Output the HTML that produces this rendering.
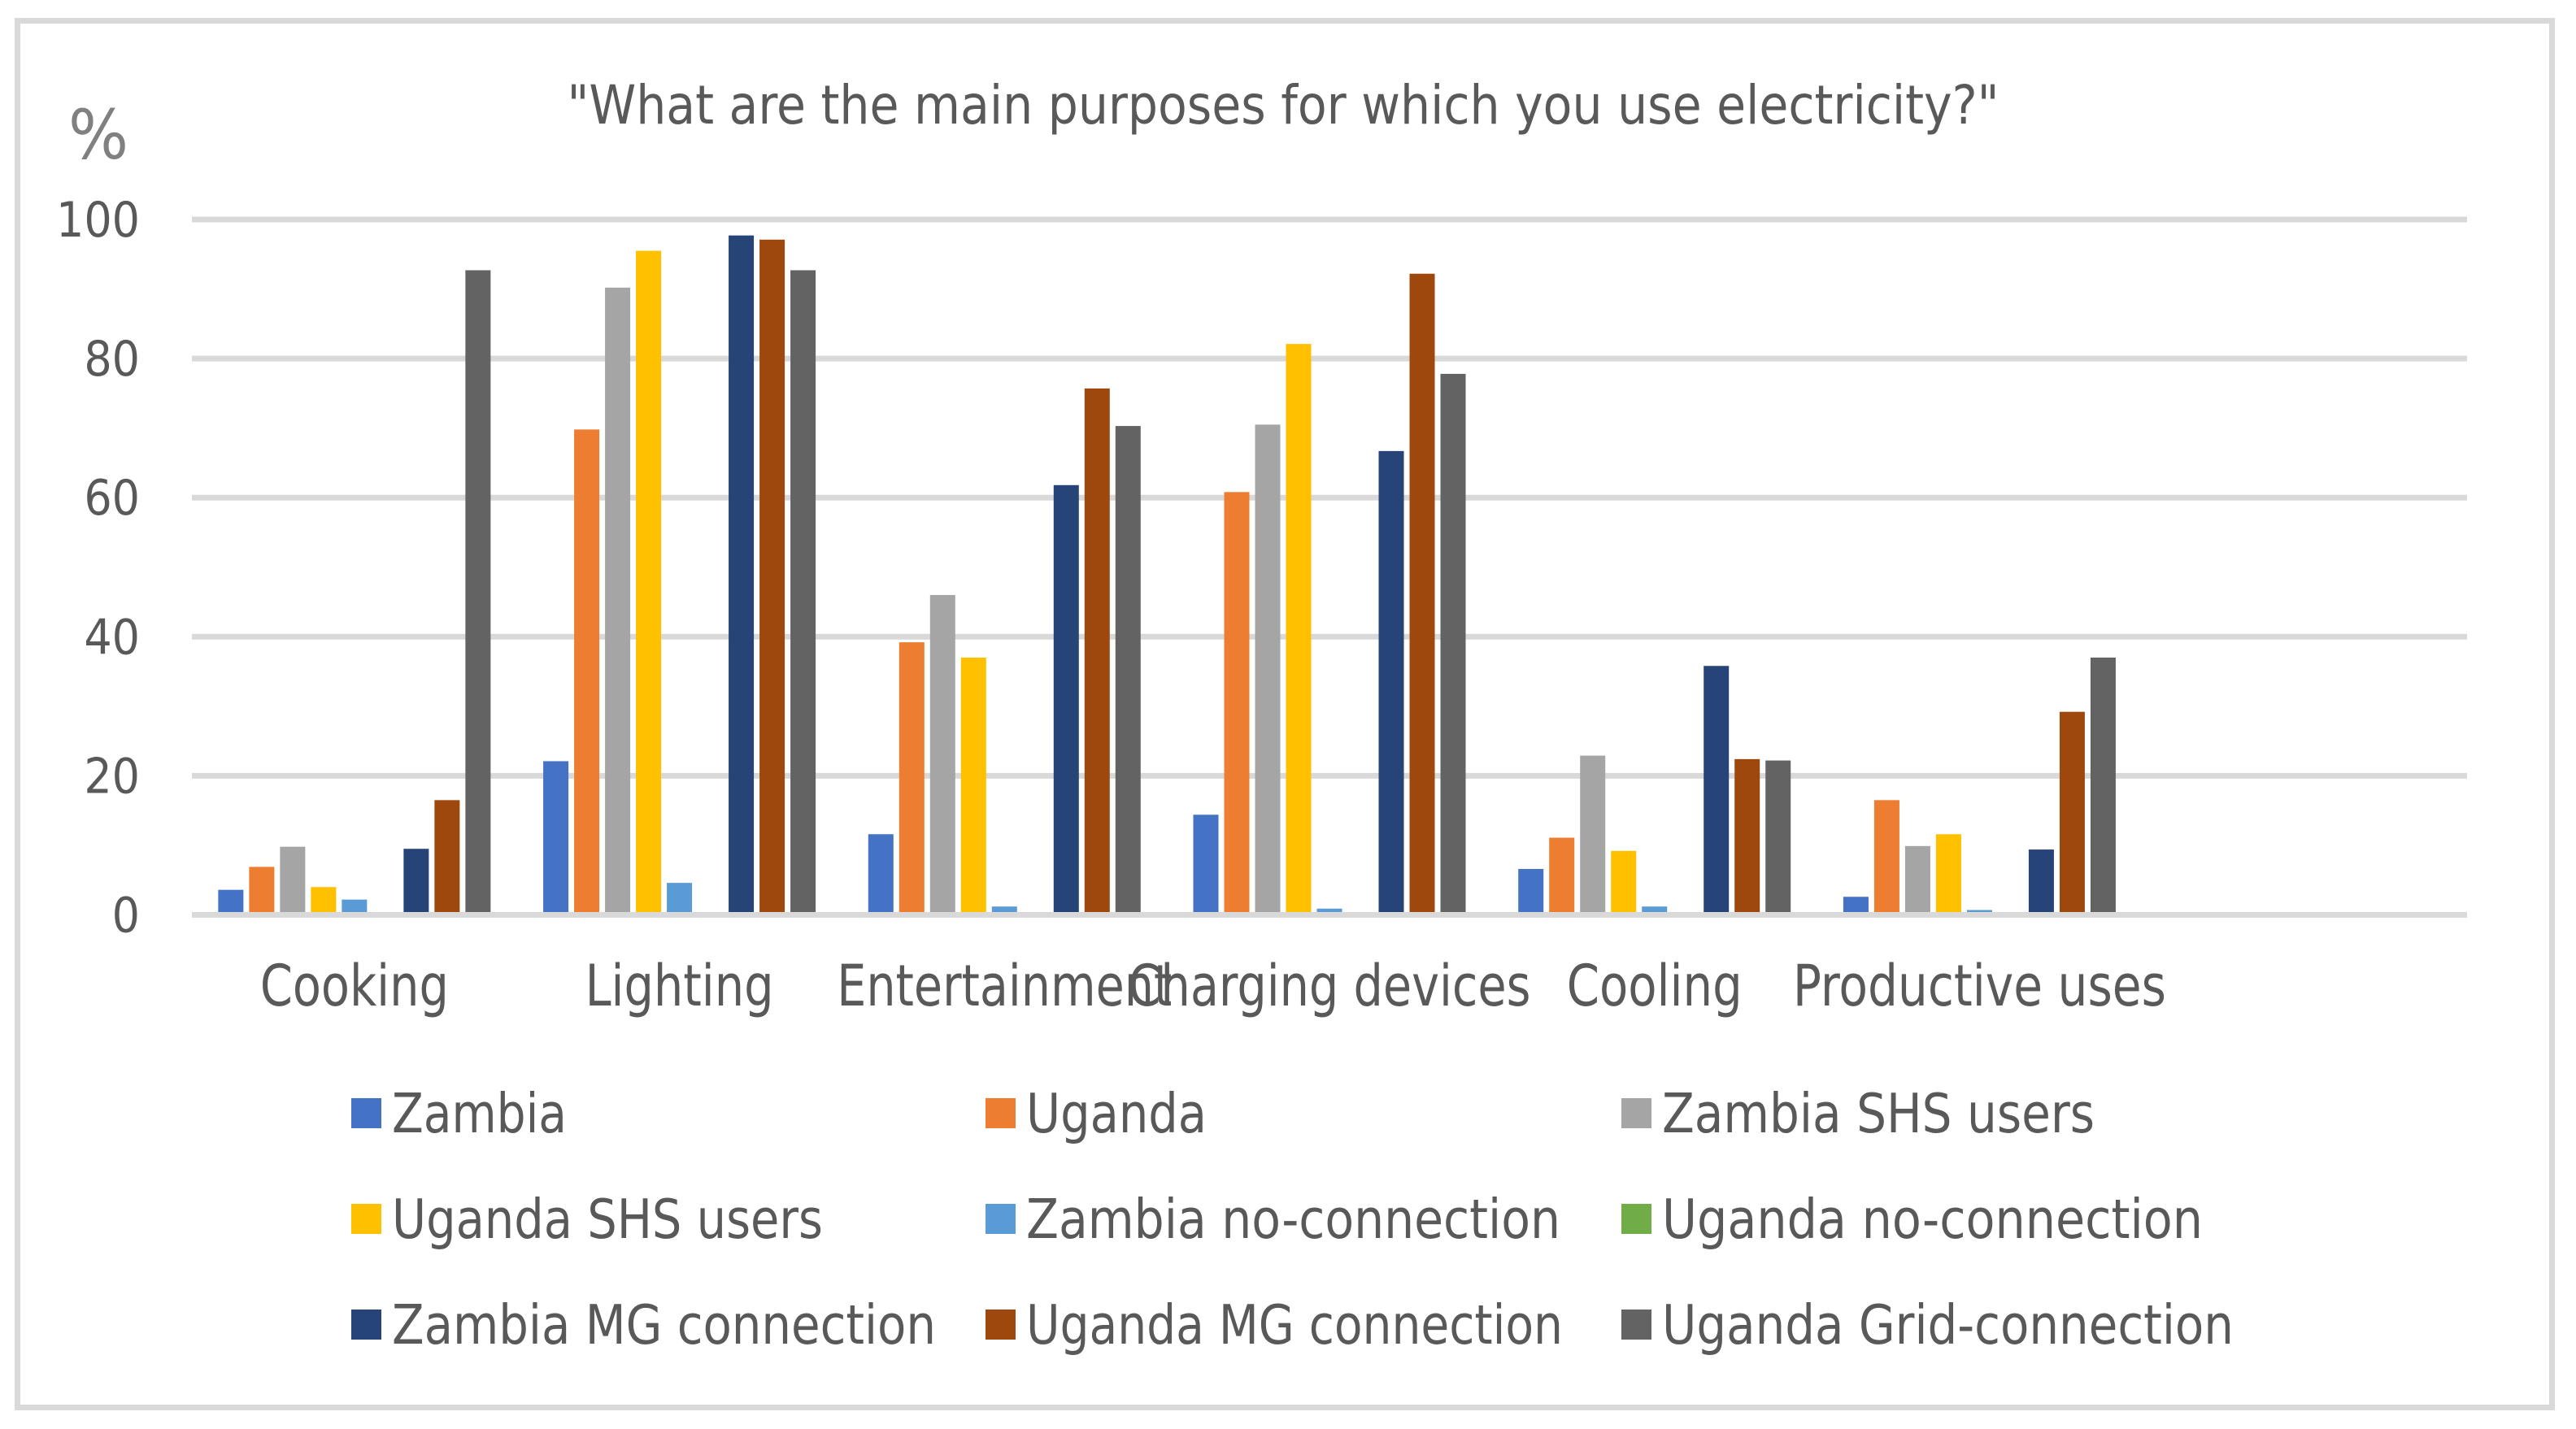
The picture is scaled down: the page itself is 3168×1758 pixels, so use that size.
<!DOCTYPE html>
<html><head><meta charset="utf-8"><style>
html,body{margin:0;padding:0;background:#fff;}
svg{display:block;}
text{font-family:"DejaVu Sans Condensed","DejaVu Sans","Liberation Sans",sans-serif;fill:#595959;}
</style></head><body>
<svg id="chart" width="3168" height="1758" viewBox="0 0 3168 1758" xmlns="http://www.w3.org/2000/svg">
<rect x="21.5" y="25.5" width="3117" height="1706" fill="#fff" stroke="#D9D9D9" stroke-width="7"/>
<text x="1578" y="152" font-size="66" text-anchor="middle" textLength="1761" lengthAdjust="spacingAndGlyphs">"What are the main purposes for which you use electricity?"</text>
<text x="84" y="195" font-size="84" style="fill:#808080" textLength="74" lengthAdjust="spacingAndGlyphs">%</text>
<g id="grid"></g><g id="yticks"></g><g id="bars"></g><g id="xlabels"></g><g id="legend"></g>
</svg>
<script>
const categories=["Cooking","Lighting","Entertainment","Charging devices","Cooling","Productive uses",""];
const seriesNames=["Zambia","Uganda","Zambia SHS users","Uganda SHS users","Zambia no-connection","Uganda no-connection","Zambia MG connection","Uganda MG connection","Uganda Grid-connection"];
const zambia=[3.6,22.1,11.6,14.4,6.6,2.6,0];
const uganda=[6.9,69.8,39.2,60.8,11.1,16.5,0];
const zambiaSHS=[9.8,90.2,46,70.5,22.9,9.9,0];
const ugandaSHS=[4.0,95.5,37,82.1,9.2,11.6,0];
const zambiaNoConn=[2.2,4.6,1.2,0.9,1.2,0.7,0];
const ugandaNoConn=[0,0,0,0,0,0,0];
const zambiaMG=[9.5,97.7,61.8,66.7,35.8,9.4,0];
const ugandaMG=[16.5,97.1,75.7,92.2,22.4,29.2,0];
const ugandaGrid=[92.7,92.7,70.3,77.8,22.2,37.0,0];
const yTicks=[0,20,40,60,80,100];

const seriesValues=[zambia,uganda,zambiaSHS,ugandaSHS,zambiaNoConn,ugandaNoConn,zambiaMG,ugandaMG,ugandaGrid];
const colors=["#4472C4","#ED7D31","#A5A5A5","#FFC000","#5B9BD5","#70AD47","#264478","#9E480E","#636363"];
const NS="http://www.w3.org/2000/svg";
const X0=236,X1=3034,Y0=1125.5,Y100=270;
const catW=(X1-X0)/categories.length;
const barW=31,gap=7;
function yScale(v){return Y0-(v/100)*(Y0-Y100);}
function xBand(c){return X0+c*catW;}
function mk(tag,attrs,parent){const e=document.createElementNS(NS,tag);for(const k in attrs)e.setAttribute(k,attrs[k]);parent.appendChild(e);return e;}

const grid=document.getElementById('grid');
const yt=document.getElementById('yticks');
yTicks.forEach(t=>{
  if(t>0){const l=mk('rect',{x:X0,y:yScale(t)-3.5,width:X1-X0,height:7,fill:'#D9D9D9'},grid);
  
  }
  const tx=mk('text',{x:172,y:yScale(t)+21,'font-size':60,'text-anchor':'end'},yt);
  
  
  tx.textContent=t;
});

const bars=document.getElementById('bars');
const groupW=seriesValues.length*barW+(seriesValues.length-1)*gap;
categories.forEach((c,ci)=>{
  const off=xBand(ci)+(catW-groupW)/2;
  seriesValues.forEach((arr,si)=>{
    const v=arr[ci];
    if(!(v>0))return;
    const top=yScale(v);
    const r=mk('rect',{x:off+si*(barW+gap),y:top,width:barW,height:Y0-top,fill:colors[si]},bars);
    
    
  });
});
const zl=mk('rect',{x:X0,y:Y0-3.5,width:X1-X0,height:7,fill:'#D9D9D9'},bars);



const xl=document.getElementById('xlabels');
const labelW=[232,232,412,495,216,459,0];
categories.forEach((c,ci)=>{
  if(!c)return;
  const t=mk('text',{x:xBand(ci)+catW/2,y:1237,'font-size':70,'text-anchor':'middle',textLength:labelW[ci],lengthAdjust:'spacingAndGlyphs'},xl);
  
  
  t.textContent=c;
});

const lg=document.getElementById('legend');
const colX=[432,1212,1994],rowY=[1351,1481,1611];
const legW=[215,222,532,530,657,665,669,660,703];
seriesNames.forEach((n,i)=>{
  const cx=colX[i%3],ry=rowY[Math.floor(i/3)];
  const g=mk('g',{},lg);
  
  
  const m=mk('rect',{x:cx,y:ry,width:37,height:37,fill:colors[i]},g);
  
  
  const t=mk('text',{x:cx+50,y:ry+42,'font-size':67,textLength:legW[i],lengthAdjust:'spacingAndGlyphs'},g);
  
  
  t.textContent=n;
});
</script>
</body></html>
